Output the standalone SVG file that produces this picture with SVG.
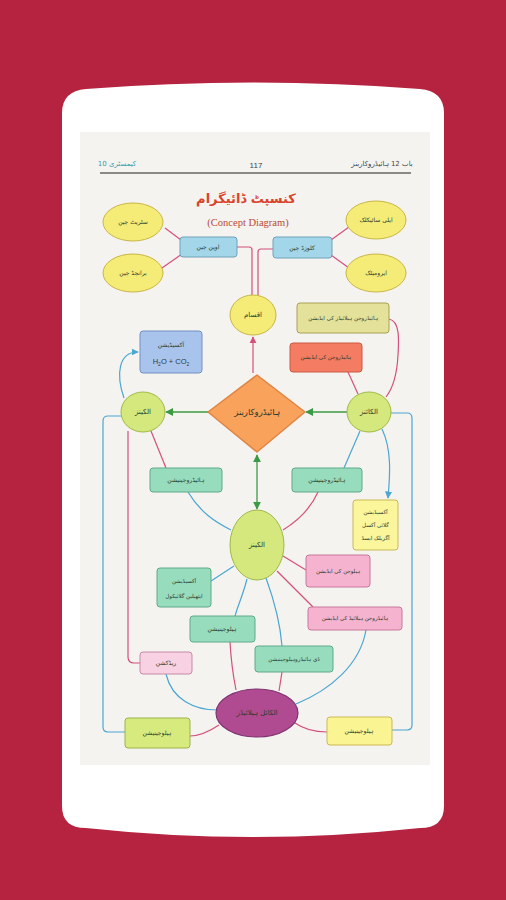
<svg xmlns="http://www.w3.org/2000/svg" width="506" height="900" viewBox="0 0 506 900">
<defs>
<style>
.ur{font-family:"DejaVu Sans",sans-serif;fill:#2a3a2a;text-anchor:middle;direction:rtl}
.s{font-size:6px}
.p{fill:none;stroke:#d4507e;stroke-width:1.2}
.b{fill:none;stroke:#4aa6d2;stroke-width:1.2}
.g{fill:none;stroke:#3c9a44;stroke-width:1.3}
.ye{fill:#f5ec78;stroke:#c9b545;stroke-width:1}
.bl{fill:#a2d6e8;stroke:#6ea2b8;stroke-width:1}
.ge{fill:#d4e87e;stroke:#a0b848;stroke-width:1}
.mi{fill:#98dcbe;stroke:#5eaa8a;stroke-width:1}
.pk{fill:#f5b3cf;stroke:#c8789c;stroke-width:1}
</style>
<marker id="ag" viewBox="0 0 10 10" refX="9" refY="5" markerWidth="6" markerHeight="6" orient="auto-start-reverse"><path d="M0,0 L10,5 L0,10 Z" fill="#3c9a44"/></marker>
<marker id="ap" viewBox="0 0 10 10" refX="9" refY="5" markerWidth="6" markerHeight="6" orient="auto"><path d="M0,0 L10,5 L0,10 Z" fill="#d4507e"/></marker>
<marker id="ab" viewBox="0 0 10 10" refX="9" refY="5" markerWidth="6" markerHeight="6" orient="auto"><path d="M0,0 L10,5 L0,10 Z" fill="#4aa6d2"/></marker>
</defs>
<rect x="0" y="0" width="506" height="900" fill="#b62340"/>
<path d="M62,113 Q62,91 86,89 Q253,76 420,89 Q444,91 444,113 L444,806 Q444,828 420,828 Q253,846 86,828 Q62,828 62,806 Z" fill="#ffffff"/>
<rect x="80" y="132" width="350" height="633" fill="#f5f3ef"/>
<g id="header">
<text x="117" y="166" font-family="DejaVu Sans,sans-serif" font-size="7" fill="#3a98a8" text-anchor="middle">کیمسٹری 10</text>
<text x="256" y="168" font-family="Liberation Sans,sans-serif" font-size="8" fill="#444" text-anchor="middle">117</text>
<text x="382" y="166" font-family="DejaVu Sans,sans-serif" font-size="7" fill="#444" text-anchor="middle">باب 12 ہائیڈروکاربنز</text>
<line x1="100" y1="173" x2="411" y2="173" stroke="#666" stroke-width="1.6"/>
</g>
<g id="title">
<text x="246" y="203" font-family="DejaVu Sans,sans-serif" font-size="13" font-weight="bold" fill="#d8442c" text-anchor="middle">کنسپٹ ڈائیگرام</text>
<text x="248" y="226" font-family="Liberation Serif,serif" font-size="10.5" fill="#b84a32" text-anchor="middle">(Concept Diagram)</text>
</g>
<g id="connectors">
<path class="p" d="M165,228 L181,240"/>
<path class="p" d="M182,254 L162,268"/>
<path class="p" d="M331,240 L349,227"/>
<path class="p" d="M331,255 L349,268"/>
<path class="p" d="M237,247 L249,247 Q252,247 252,250 L252,297"/>
<path class="p" d="M273,249 L261,249 Q258,249 258,252 L258,297"/>
<path class="p" d="M253,373 L253,337" marker-end="url(#ap)"/>
<path class="p" d="M389,319 C400,321 399,340 398,355 C397,375 393,388 386,397"/>
<path class="p" d="M348,372 L358,394"/>
<path class="p" d="M151,431 L166,468"/>
<path class="p" d="M318,492 C310,510 296,522 283,530"/>
<path class="p" d="M283,556 L306,570"/>
<path class="p" d="M277,571 L313,607"/>
<path class="p" d="M128,431 L128,657 Q128,663 134,663 L140,663"/>
<path class="p" d="M230,642 C231,660 234,680 236,690"/>
<path class="p" d="M282,672 L279,691"/>
<path class="p" d="M190,736 C200,736 210,731 219,725"/>
<path class="p" d="M295,723 C305,730 315,732 327,732"/>
<path class="b" d="M124,398 C116,375 118,352 138,352" marker-end="url(#ab)"/>
<path class="b" d="M188,492 C200,512 215,522 231,530"/>
<path class="b" d="M360,431 L344,468"/>
<path class="b" d="M382,429 C392,450 390,475 388,498" marker-end="url(#ab)"/>
<path class="b" d="M211,581 L234,566"/>
<path class="b" d="M247,579 C243,595 238,605 235,616"/>
<path class="b" d="M266,578 C274,600 280,620 282,646"/>
<path class="b" d="M366,630 C360,665 330,690 296,704"/>
<path class="b" d="M166,674 C172,700 195,710 217,710"/>
<path class="b" d="M121,416 L108,416 Q103,416 103,421 L103,727 Q103,732 108,732 L125,732"/>
<path class="b" d="M391,413 L407,413 Q412,413 412,418 L412,725 Q412,730 407,730 L392,730"/>
<path class="g" d="M208,412 L166,412" marker-end="url(#ag)"/>
<path class="g" d="M347,412 L306,412" marker-end="url(#ag)"/>
<path class="g" d="M257,455 L257,509" marker-start="url(#ag)" marker-end="url(#ag)"/>
</g>
<g id="n-straight"><ellipse class="ye" cx="133" cy="222" rx="30" ry="19"/><text class="ur s" x="133" y="224">سٹریٹ چین</text></g>
<g id="n-branched"><ellipse class="ye" cx="133" cy="273" rx="30" ry="19"/><text class="ur s" x="133" y="275">برانچڈ چین</text></g>
<g id="n-open"><rect class="bl" x="180" y="237" width="57" height="20" rx="3"/><text class="ur s" x="208" y="249">اوپن چین</text></g>
<g id="n-closed"><rect class="bl" x="273" y="237" width="59" height="21" rx="3"/><text class="ur s" x="302" y="250">کلوزڈ چین</text></g>
<g id="n-alicyclic"><ellipse class="ye" cx="376" cy="220" rx="30" ry="19"/><text class="ur s" x="376" y="222">ایلی سائیکلک</text></g>
<g id="n-aromatic"><ellipse class="ye" cx="376" cy="273" rx="30" ry="19"/><text class="ur s" x="376" y="275">ایرومیٹک</text></g>
<g id="n-types"><ellipse class="ye" cx="253" cy="315" rx="23" ry="20"/><text class="ur" font-size="7" x="253" y="317">اقسام</text></g>
<g id="n-add-hx"><rect x="297" y="303" width="92" height="30" rx="3" fill="#e3e19a" stroke="#a9a152"/><text class="ur" font-size="5.5" x="343" y="320">ہائیڈروجن ہیلائیڈز کی ایڈیشن</text></g>
<g id="n-add-h"><rect x="290" y="343" width="72" height="29" rx="3" fill="#f47c62" stroke="#c85842"/><text class="ur" font-size="5.5" x="326" y="359">ہائیڈروجن کی ایڈیشن</text></g>
<g id="n-oxid"><rect x="140" y="331" width="62" height="42" rx="3" fill="#a9c4ec" stroke="#7390c2"/><text class="ur s" x="171" y="347">آکسیڈیشن</text><text x="171" y="364" font-family="Liberation Sans,sans-serif" font-size="7.5" fill="#2a3a4a" text-anchor="middle">H<tspan font-size="5" dy="1.5">2</tspan><tspan dy="-1.5">O + CO</tspan><tspan font-size="5" dy="1.5">2</tspan></text></g>
<g id="n-hydrocarbons"><path d="M257,375 L305,412 L257,452 L208,412 Z" fill="#f9a25c" stroke="#e08444" stroke-width="1.5" stroke-linejoin="round"/><text class="ur" font-size="8.5" x="257" y="415">ہائیڈروکاربنز</text></g>
<g id="n-alkanes"><ellipse class="ge" cx="143" cy="412" rx="22" ry="20"/><text class="ur" font-size="7" x="143" y="414">الکینز</text></g>
<g id="n-alkynes"><ellipse class="ge" cx="369" cy="412" rx="22" ry="20"/><text class="ur" font-size="7" x="369" y="414">الکائنز</text></g>
<g id="n-hydrog1"><rect class="mi" x="150" y="468" width="72" height="24" rx="3"/><text class="ur s" x="186" y="482">ہائیڈروجینیشن</text></g>
<g id="n-hydrog2"><rect class="mi" x="292" y="468" width="70" height="24" rx="3"/><text class="ur s" x="327" y="482">ہائیڈروجینیشن</text></g>
<g id="n-oxid-alkyne"><rect x="353" y="500" width="45" height="50" rx="3" fill="#fbf59c" stroke="#c9b955"/><text class="ur" font-size="5.5" x="375.5" y="514">آکسیڈیشن</text><text class="ur" font-size="5.5" x="375.5" y="527">گلائی آکسل</text><text class="ur" font-size="5.5" x="375.5" y="540">آگزیلک ایسڈ</text></g>
<g id="n-alkenes"><ellipse class="ge" cx="257" cy="545" rx="27" ry="35"/><text class="ur" font-size="7" x="257" y="547">الکینز</text></g>
<g id="n-add-x"><rect class="pk" x="306" y="555" width="64" height="32" rx="3"/><text class="ur" font-size="5.5" x="338" y="573">ہیلوجن کی ایڈیشن</text></g>
<g id="n-add-hx2"><rect class="pk" x="308" y="607" width="94" height="23" rx="3"/><text class="ur" font-size="5.5" x="355" y="620">ہائیڈروجن ہیلائیڈ کی ایڈیشن</text></g>
<g id="n-oxid-eg"><rect class="mi" x="157" y="568" width="54" height="39" rx="3"/><text class="ur" font-size="5.5" x="184" y="583">آکسیڈیشن</text><text class="ur" font-size="5.5" x="184" y="598">ایتھیلین گلائیکول</text></g>
<g id="n-halogenation"><rect class="mi" x="190" y="616" width="65" height="26" rx="3"/><text class="ur s" x="222.5" y="631">ہیلوجینیشن</text></g>
<g id="n-dehydrohal"><rect class="mi" x="255" y="646" width="78" height="26" rx="3"/><text class="ur" font-size="5.5" x="294" y="661">ڈی ہائیڈروہیلوجینیشن</text></g>
<g id="n-reduction"><rect x="140" y="652" width="52" height="22" rx="3" fill="#f8d2e2" stroke="#c88aa6"/><text class="ur s" x="166" y="665">ریڈکشن</text></g>
<g id="n-alkylhalides"><ellipse cx="257" cy="713" rx="41" ry="24" fill="#b04b91" stroke="#7e3270" stroke-width="1.2"/><text class="ur" font-size="7" x="257" y="715">الکائل ہیلائیڈز</text></g>
<g id="n-hal-left"><rect x="125" y="718" width="65" height="30" rx="3" fill="#d6ea7e" stroke="#9cb24c"/><text class="ur s" x="157.5" y="735">ہیلوجینیشن</text></g>
<g id="n-hal-right"><rect x="327" y="717" width="65" height="28" rx="3" fill="#faf492" stroke="#c9b955"/><text class="ur s" x="359.5" y="733">ہیلوجینیشن</text></g>
</svg>
